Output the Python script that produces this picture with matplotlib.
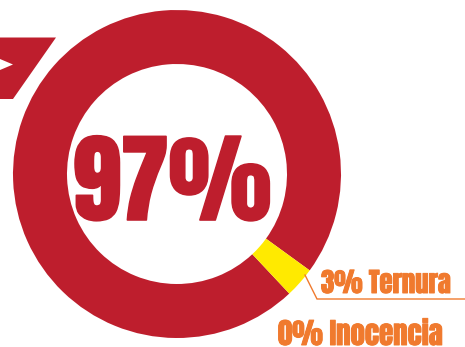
import matplotlib
matplotlib.use('Agg')
import matplotlib.pyplot as plt
from matplotlib.patches import Polygon
import matplotlib.patheffects as pe

# share of each feeling
labels = ['Resto', 'Ternura', 'Inocencia']
shares = [97, 3, 0]
colors = ['#BE1E2D', '#FFEA00', '#F07A2E']
headline = '97%'
captions = ['3% Ternura', '0% Inocencia']

RED = '#BE1E2D'
ORANGE = '#F07A2E'
H = 347

fig = plt.figure(figsize=(4.65, 3.47), dpi=100)
ax = fig.add_axes([0, 0, 1, 1])

# donut, only non-zero slices get drawn
vals = [v for v in shares if v > 0]
cols = [c for v, c in zip(shares, colors) if v > 0]
ax.pie(vals, colors=cols, startangle=-36, counterclock=True,
       center=(177, H - 174), radius=164,
       wedgeprops=dict(width=54, linewidth=0))

ax.set_xlim(0, 465)
ax.set_ylim(0, H)
ax.set_aspect('equal')
ax.axis('off')

# red tab with white arrow on the left
ax.add_patch(Polygon([(0, H - 37.5), (56, H - 37.5), (13, H - 99), (0, H - 99)],
                     closed=True, facecolor=RED, edgecolor='none'))
ax.add_patch(Polygon([(0, H - 59), (13, H - 64.5), (0, H - 70)],
                     closed=True, facecolor='white', edgecolor='none'))

font = ['Anton', 'Liberation Sans Narrow', 'DejaVu Sans']

ax.text(172, H - 220, headline, color=RED, fontsize=70, family=font,
        ha='center', va='baseline',
        path_effects=[pe.withStroke(linewidth=1.2, foreground=RED)])

# leader line for the small slice
ax.plot([305, 317, 465], [H - 275, H - 299, H - 299], color=ORANGE, lw=1,
        solid_joinstyle='miter')
ax.text(321, H - 293, captions[0], color=ORANGE, fontsize=19.3, family=font,
        ha='left', va='baseline',
        path_effects=[pe.withStroke(linewidth=0.7, foreground=ORANGE)])
ax.text(278, H - 345, captions[1], color=ORANGE, fontsize=20.8, family=font,
        ha='left', va='baseline',
        path_effects=[pe.withStroke(linewidth=0.7, foreground=ORANGE)])

fig.savefig('out.png', dpi=100)
